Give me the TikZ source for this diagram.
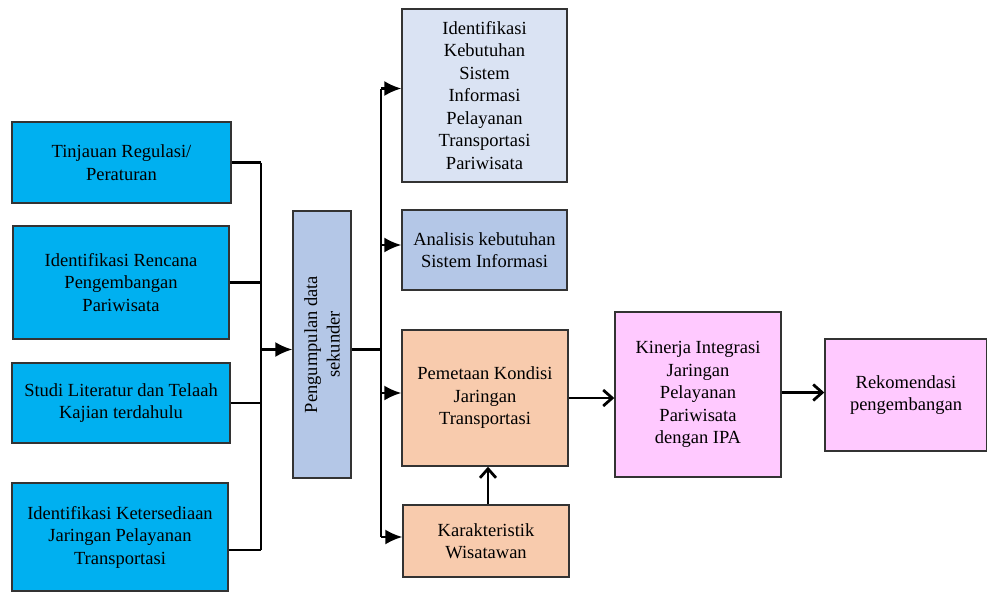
\documentclass[tikz,border=0pt]{standalone}
\usepackage{fontspec}
\setmainfont{Liberation Serif}
\usetikzlibrary{arrows.meta}
\definecolor{cyanbox}{HTML}{00B0F0}
\definecolor{bluebox}{HTML}{B4C7E7}
\definecolor{palebox}{HTML}{DAE3F3}
\definecolor{peachbox}{HTML}{F8CBAD}
\definecolor{pinkbox}{HTML}{FFC9FF}
\tikzset{
    every node/.style={rectangle, draw=black!80, line width=1.4pt, align=center, inner sep=1mm,
        font=\fontsize{18.5}{22.5}\selectfont},
    bus/.style={line width=2.2pt},
    feed/.style={line width=2.2pt, -{Latex[length=17pt,width=15pt]}},
    flow/.style={line width=2.8pt, -{Straight Barb[length=9pt,width=16pt]}}
}

\begin{document}
\begin{tikzpicture}[x=1pt,y=-1pt]
        \useasboundingbox (0,0) rectangle (987,592);
        \node (a1) [fill=cyanbox, minimum width=219pt, minimum height=81pt] at (121.5,162.5) {Tinjauan Regulasi/\\Peraturan};
        \node (a2) [fill=cyanbox, minimum width=216pt, minimum height=113pt] at (121,282.5) {Identifikasi Rencana\\Pengembangan\\Pariwisata};
        \node (a3) [fill=cyanbox, minimum width=218pt, minimum height=80pt] at (121,403) {Studi Literatur dan Telaah\\Kajian terdahulu};
        \node (a4) [fill=cyanbox, minimum width=216pt, minimum height=108pt] at (120,537) {Identifikasi Ketersediaan\\Jaringan Pelayanan\\Transportasi};
        \node (b) [fill=bluebox, minimum width=58pt, minimum height=267pt] at (322,344.5) {};
        \node [draw=none, rotate=90] at (b.center) {Pengumpulan data\\sekunder};
        \node (c1) [fill=palebox, minimum width=165pt, minimum height=173pt] at (484.5,95.5) {Identifikasi\\Kebutuhan\\Sistem\\Informasi\\Pelayanan\\Transportasi\\Pariwisata};
        \node (c2) [fill=bluebox, minimum width=165pt, minimum height=80pt] at (484.5,250) {Analisis kebutuhan\\Sistem Informasi};
        \node (c3) [fill=peachbox, minimum width=166pt, minimum height=136pt] at (485,398) {Pemetaan Kondisi\\Jaringan\\Transportasi};
        \node (c4) [fill=peachbox, minimum width=166pt, minimum height=72pt] at (486,541) {Karakteristik\\Wisatawan};
        \node (d) [fill=pinkbox, minimum width=166pt, minimum height=165pt] at (698,394.5) {Kinerja Integrasi\\Jaringan\\Pelayanan\\Pariwisata\\dengan IPA};
        \node (e) [fill=pinkbox, minimum width=162pt, minimum height=112pt] at (906,395) {Rekomendasi\\pengembangan};
        \coordinate (lbus) at (261,0);
        \coordinate (rbus) at (381,0);
        % left collector
        \draw[bus] (a1.east) -- (a1.east -| lbus);
        \draw[bus] (a2.east) -- (a2.east -| lbus);
        \draw[bus] (a3.east) -- (a3.east -| lbus);
        \draw[bus] ([yshift=-13pt]a4.east) -- ([yshift=-13pt]a4.east -| lbus);
        \draw[bus] (lbus |- a1.east) -- ([yshift=-13pt]lbus |- a4.east);
        \draw[feed] ([yshift=-5pt]lbus |- b.west) -- ([yshift=-5pt]b.west);
        % right distributor
        \draw[bus] ([yshift=-5pt]b.east) -- ([yshift=-5pt]rbus |- b.east);
        \draw[bus] ([yshift=7pt]rbus |- c1.west) -- ([yshift=4pt]rbus |- c4.west);
        \draw[feed] ([yshift=7pt]rbus |- c1.west) -- ([yshift=7pt]c1.west);
        \draw[feed] ([yshift=5pt]rbus |- c2.west) -- ([yshift=5pt]c2.west);
        \draw[feed] ([yshift=5pt]rbus |- c3.west) -- ([yshift=5pt]c3.west);
        \draw[feed] ([yshift=4pt]rbus |- c4.west) -- ([yshift=4pt]c4.west);
        % main flow
        \draw[flow] ([xshift=2pt]c4.north) -- ([xshift=2pt]c4.north |- c3.south);
        \draw[flow] (c3.east) -- (c3.east -| d.west);
        \draw[flow] ([yshift=2pt]d.east) -- ([yshift=2pt]d.east -| e.west);
\end{tikzpicture}
\end{document}
